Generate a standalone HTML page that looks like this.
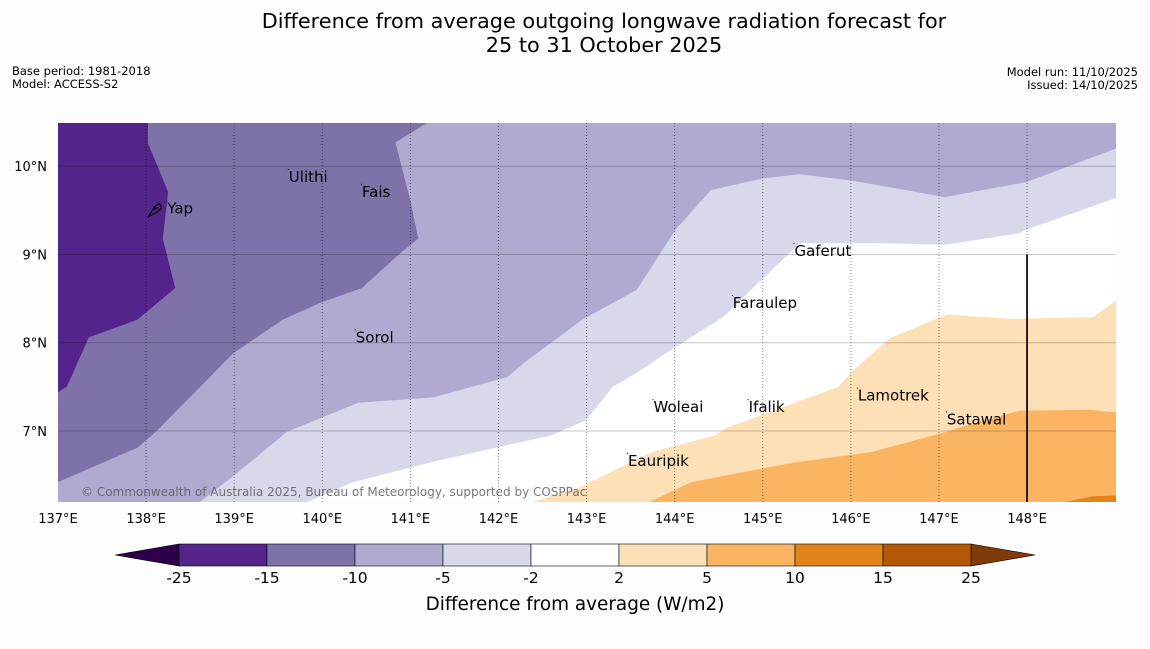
<!DOCTYPE html>
<html><head><meta charset="utf-8"><style>
html,body{margin:0;padding:0;background:#fdfdfd;}
svg text{font-family:"DejaVu Sans","Liberation Sans",sans-serif;}
</style></head><body>
<svg id="chart" width="1150" height="644" viewBox="0 0 1150 644" xmlns="http://www.w3.org/2000/svg">
<rect x="0" y="0" width="1150" height="644" fill="#fdfdfd"/>
<text x="604" y="28" font-size="20.8" text-anchor="middle" fill="#000">Difference from average outgoing longwave radiation forecast for</text>
<text x="604" y="52" font-size="20.8" text-anchor="middle" fill="#000">25 to 31 October 2025</text>
<text x="12" y="75" font-size="11.5" fill="#000">Base period: 1981-2018</text>
<text x="12" y="88" font-size="11.5" fill="#000">Model: ACCESS-S2</text>
<text x="1138" y="76" font-size="11.5" text-anchor="end" fill="#000">Model run: 11/10/2025</text>
<text x="1138" y="89" font-size="11.5" text-anchor="end" fill="#000">Issued: 14/10/2025</text>
<g id="map"></g>
<g id="cbar"></g>
<text x="575" y="610" font-size="18.4" text-anchor="middle" fill="#000">Difference from average (W/m2)</text>
</svg>
<script>
const lonTicks = [137,138,139,140,141,142,143,144,145,146,147,148];
const latTicks = [7,8,9,10];
const levelBounds = [-25,-15,-10,-5,-2,2,5,10,15,25];
const levelColors = ["#53248a","#7f72a8","#b0aad0","#d7d8ea","#ffffff","#fde0b6","#fbb562","#e3841a","#b35806"];
const contourM2 = [[139.83,6.195],[140.35,6.42],[141.26,6.65],[142.10,6.84],[142.6,6.95],[142.99,7.12],[143.30,7.50],[143.57,7.66],[144.01,7.95],[144.55,8.29],[144.90,8.63],[145.34,9.05],[145.42,9.13],[146.23,9.13],[147.07,9.11],[147.91,9.24],[147.99,9.28],[149.01,9.64]];
const contourM5 = [[138.61,6.195],[139.03,6.52],[139.60,6.99],[140.41,7.32],[141.26,7.38],[142.10,7.61],[142.30,7.78],[142.95,8.26],[143.57,8.60],[144.01,9.28],[144.41,9.73],[144.99,9.86],[145.41,9.91],[146.00,9.84],[147.07,9.65],[147.99,9.82],[149.01,10.20]];
const contourM10 = [[137,6.42],[137.90,6.81],[138.10,6.98],[138.99,7.88],[139.55,8.26],[139.97,8.45],[140.45,8.62],[140.88,9.01],[141.09,9.18],[141.00,9.61],[140.83,10.27],[141.19,10.49]];
const contourM15 = [[138.02,10.49],[138.02,10.26],[138.25,9.71],[138.19,9.18],[138.33,8.62],[137.90,8.26],[137.35,8.06],[137.10,7.50],[137,7.44]];
const contourP2 = [[142.38,6.195],[142.90,6.35],[143.74,6.76],[144.46,6.95],[144.58,7.03],[145.86,7.50],[146.00,7.66],[146.44,8.05],[147.09,8.32],[147.82,8.27],[148.75,8.29],[149.01,8.48]];
const contourP5 = [[143.71,6.195],[144.19,6.42],[145.34,6.64],[146.23,6.76],[147.05,6.98],[147.24,7.04],[147.91,7.23],[148.70,7.24],[149.01,7.21]];
const contourP10 = [[148.43,6.195],[148.75,6.26],[149.01,6.27]];
const placeNames = ["Yap","Ulithi","Fais","Sorol","Gaferut","Faraulep","Woleai","Ifalik","Lamotrek","Satawal","Eauripik"];
const placeLon = [138.24,139.62,140.45,140.38,145.36,144.66,143.76,144.84,146.08,147.09,143.47];
const placeLat = [9.52,9.88,9.71,8.06,9.04,8.45,7.27,7.27,7.40,7.13,6.66];

const NS="http://www.w3.org/2000/svg";
const X0=58, X1=1116, Y0=123, Y1=502;
const LON0=137, LON1=149.01, LATB=6.195, LATT=10.49;
const x = lon => X0 + (lon-LON0)/(LON1-LON0)*(X1-X0);
const y = lat => Y1 - (lat-LATB)/(LATT-LATB)*(Y1-Y0);
const map=document.getElementById('map');
function mk(tag,attrs,parent){const e=document.createElementNS(NS,tag);for(const k in attrs)e.setAttribute(k,attrs[k]);parent.appendChild(e);return e;}
function poly(pts,extra,color,name){
  const all=pts.concat(extra);
  const d=all.map((p,i)=>(i?'L':'M')+x(p[0]).toFixed(1)+','+y(p[1]).toFixed(1)).join('')+'Z';
  const e=mk('path',{d:d,fill:color},map);
  
  
}
const bg=mk('rect',{x:X0,y:Y0,width:X1-X0,height:Y1-Y0,fill:'#ffffff'},map);


const TL=[LON0,LATT], BL=[LON0,LATB], TR=[LON1,LATT], BR=[LON1,LATB];
poly(contourM2,[TR,TL,BL],levelColors[3],'region-minus2-to-minus5');
poly(contourM5,[TR,TL,BL],levelColors[2],'region-minus5-to-minus10');
poly(contourM10,[TL],levelColors[1],'region-minus10-to-minus15');
poly(contourM15,[TL],levelColors[0],'region-below-minus15');
poly(contourP2,[BR],levelColors[5],'region-2-to-5');
poly(contourP5,[BR],levelColors[6],'region-5-to-10');
poly(contourP10,[BR],levelColors[7],'region-10-to-15');
latTicks.forEach(v=>{
  const l=mk('line',{x1:X0,x2:X1,y1:y(v),y2:y(v),stroke:'#000','stroke-opacity':0.22,'stroke-width':1},map);
  
  
  const t=mk('text',{x:X0-11,y:y(v)+5,'font-size':13,'text-anchor':'end',fill:'#000'},map);
  t.textContent=v+'°N';
  
  
});
lonTicks.forEach(v=>{
  if(v>LON0){
    const l=mk('line',{x1:x(v),x2:x(v),y1:Y0,y2:Y1,stroke:'#000','stroke-opacity':0.45,'stroke-width':1,'stroke-dasharray':'1,2'},map);
    
    
  }
  const t=mk('text',{x:x(v),y:523,'font-size':13,'text-anchor':'middle',fill:'#000'},map);
  t.textContent=v+'°E';
  
  
});
const vl=mk('line',{x1:x(148),x2:x(148),y1:y(9),y2:Y1,stroke:'#222','stroke-width':2},map);


const yap=mk('path',{d:`M${x(138.12)-8},${y(9.52)+8} l6,-10 l5,-3 l2,4 l-4,4 z M${x(138.12)-3},${y(9.52)+1} l4,-2`,fill:'none',stroke:'#000','stroke-width':1.2},map);


placeNames.forEach((n,i)=>{
  const t=mk('text',{x:x(placeLon[i]),y:y(placeLat[i])+5,'font-size':15,fill:'#000'},map);
  t.textContent=n;
  
  
  const d=mk('rect',{x:x(placeLon[i])-1,y:y(placeLat[i])-8,width:1,height:1,fill:'#000'},map);
  
  
});
const cp=mk('text',{x:81,y:496,'font-size':12,fill:'#555','fill-opacity':0.8},map);
cp.textContent='© Commonwealth of Australia 2025, Bureau of Meteorology, supported by COSPPac';



const cb=document.getElementById('cbar');
const CX0=179, CX1=971, CY0=544, CY1=566;
const cx=i=>CX0+i*(CX1-CX0)/(levelBounds.length-1);
const lt=mk('path',{d:`M${CX0},${CY0} L115,555 L${CX0},${CY1} Z`,fill:'#2d004b',stroke:'#000','stroke-width':0.6},cb);


const rt=mk('path',{d:`M${CX1},${CY0} L1035,555 L${CX1},${CY1} Z`,fill:'#7f3b08',stroke:'#000','stroke-width':0.6},cb);


levelColors.forEach((c,i)=>{
  const r=mk('rect',{x:cx(i),y:CY0,width:cx(i+1)-cx(i),height:CY1-CY0,fill:c,stroke:'#000','stroke-width':0.6},cb);
  
  
});
levelBounds.forEach((v,i)=>{
  const t=mk('text',{x:cx(i),y:583,'font-size':15.5,'text-anchor':'middle',fill:'#000'},cb);
  t.textContent=v;
  
  
});
</script>
</body></html>
